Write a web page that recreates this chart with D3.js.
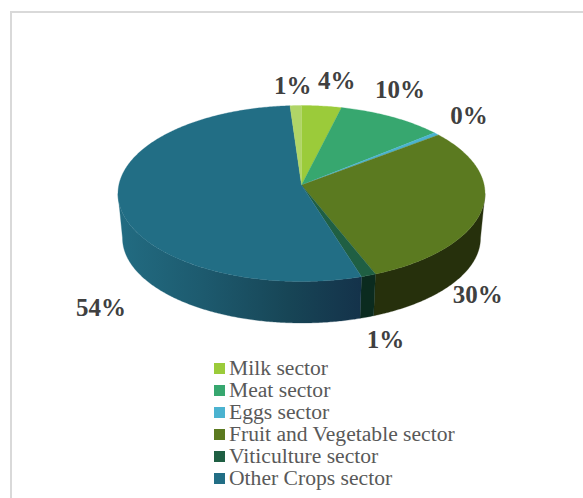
<!DOCTYPE html>
<html>
<head>
<meta charset="utf-8">
<script src="https://cdn.jsdelivr.net/npm/d3@7"></script>
<style>
  html, body { margin: 0; padding: 0; background: #fff; }
  svg { display: block; }
</style>
</head>
<body>
<div id="chart"></div>
<script>
const sectors = ["Milk sector", "Meat sector", "Eggs sector", "Fruit and Vegetable sector", "Viticulture sector", "Other Crops sector", ""];
const shares = [3.5, 9.4, 0.5, 30, 1.3, 54.3, 1];
const shareLabels = ["4%", "10%", "0%", "30%", "1%", "54%", "1%"];
const topColors = ["#9bcb3a", "#37a76f", "#4bb3d0", "#5b7a20", "#1f5f43", "#226e85", "#b0d567"];
const sideColors = ["#5d7a22", "#216443", "#2d6b7d", "#26300c", "#0b2b1f", "url(#otherSide)", "#6a803e"];

// label offsets from the rim point at each slice's middle angle
const labelNudge = [[15, -17.5], [8, -19], [32.5, -10], [-3, 91], [17, 73], [-20.5, 105], [-3, -12]];

const width = 583;
const height = 498;

const svg = d3.select("#chart")
    .append("svg")
    .attr("width", width)
    .attr("height", height);

// outer frame, cut off by the window on the right and bottom
svg.append("rect")
    .attr("x", 11)
    .attr("y", 12)
    .attr("width", 600)
    .attr("height", 520)
    .attr("fill", "none")
    .attr("stroke", "#d9d9d9")
    .attr("stroke-width", 2);

const grad = svg.append("defs").append("linearGradient")
    .attr("id", "otherSide")
    .attr("gradientUnits", "userSpaceOnUse")
    .attr("x1", 118).attr("x2", 362)
    .attr("y1", 0).attr("y2", 0);
grad.append("stop").attr("offset", "0%").attr("stop-color", "#226c82");
grad.append("stop").attr("offset", "35%").attr("stop-color", "#1d5a6e");
grad.append("stop").attr("offset", "70%").attr("stop-color", "#174556");
grad.append("stop").attr("offset", "100%").attr("stop-color", "#14324a");

const cx = 301.5;
const apexY = 185;
const topRim = { y: 193.5, rx: 183.5, ry: 88 };
const bottomRim = { y: 238, rx: 179, ry: 85 };

const rim = (e, a) => [cx + e.rx * Math.sin(a), e.y - e.ry * Math.cos(a)];
const line = d3.line();

const pie = d3.pie().sort(null).value(d => d)(shares);

function sweep(a0, a1) {
    const n = Math.max(2, Math.ceil((a1 - a0) / 0.01));
    return d3.range(n + 1).map(i => a0 + (a1 - a0) * i / n);
}

// side wall, only the front half of the ellipse shows
pie.forEach((d, i) => {
    const a0 = Math.max(d.startAngle, Math.PI / 2);
    const a1 = Math.min(d.endAngle, Math.PI * 3 / 2);
    if (a1 <= a0) return;
    const angles = sweep(a0, a1);
    const pts = angles.map(a => rim(topRim, a)).concat(angles.slice().reverse().map(a => rim(bottomRim, a)));
    svg.append("path")
        .attr("d", line(pts) + "Z")
        .attr("fill", sideColors[i])
        .attr("stroke", sideColors[i])
        .attr("stroke-width", 0.3);
});

// top face
pie.forEach((d, i) => {
    const pts = [[cx, apexY]].concat(sweep(d.startAngle, d.endAngle).map(a => rim(topRim, a)));
    svg.append("path")
        .attr("d", line(pts) + "Z")
        .attr("fill", topColors[i])
        .attr("stroke", topColors[i])
        .attr("stroke-width", 0.3);
});

svg.selectAll("text.share")
    .data(pie)
    .join("text")
    .attr("class", "share")
    .attr("x", (d, i) => rim(topRim, (d.startAngle + d.endAngle) / 2)[0] + labelNudge[i][0])
    .attr("y", (d, i) => rim(topRim, (d.startAngle + d.endAngle) / 2)[1] + labelNudge[i][1])
    .attr("text-anchor", "middle")
    .attr("font-family", "'Liberation Serif', serif")
    .attr("font-weight", "bold")
    .attr("font-size", 25)
    .attr("fill", "#404040")
    .text((d, i) => shareLabels[i]);

const legendNames = sectors.filter(s => s !== "");
const legendY = d3.scalePoint()
    .domain(legendNames)
    .range([368.5, 478.5]);

const legend = svg.selectAll("g.legend")
    .data(legendNames)
    .join("g")
    .attr("class", "legend")
    .attr("transform", d => `translate(214,${legendY(d)})`);

legend.append("rect")
    .attr("y", -5.5)
    .attr("width", 11)
    .attr("height", 11)
    .attr("fill", (d, i) => topColors[i]);

legend.append("text")
    .attr("x", 15)
    .attr("y", 6.5)
    .attr("font-family", "'Liberation Serif', serif")
    .attr("font-size", 21.6)
    .attr("fill", "#595959")
    .text(d => d);
</script>
</body>
</html>
